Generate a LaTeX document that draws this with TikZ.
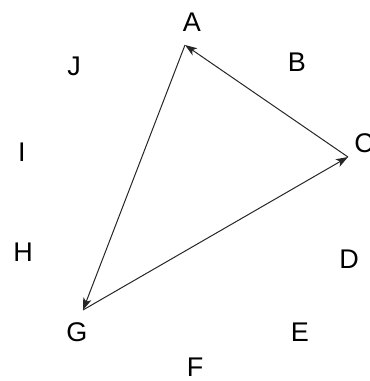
\documentclass[tikz,border=0pt]{standalone}
\usepackage{fontspec}
\setmainfont{Liberation Sans}
\usetikzlibrary{arrows.meta}
\begin{document}
\begin{tikzpicture}[x=1pt,y=-1pt,
  lbl/.style={font=\fontsize{27}{30}\selectfont,inner sep=0pt},
  edge/.style={line width=1pt,draw=black!85,-{Stealth[length=12pt,width=8.5pt,inset=3pt]}}]
\useasboundingbox (0,0) rectangle (370,381);
\node[lbl] (A) at (192,22) {A};
\node[lbl] (B) at (297,62) {B};
\node[lbl] (C) at (364,143) {C};
\node[lbl] (D) at (349,259) {D};
\node[lbl] (E) at (300,332) {E};
\node[lbl] (F) at (195,367) {F};
\node[lbl] (G) at (77,332) {G};
\node[lbl] (H) at (23,252) {H};
\node[lbl] (I) at (22,152) {I};
\node[lbl] (J) at (74,66) {J};

\coordinate (va) at (185,45);
\coordinate (vc) at (348,157);
\coordinate (vg) at (83,310);
\draw[edge] (vc) -- (va);
\draw[edge] (va) -- (vg);
\draw[edge] (vg) -- (vc);
\end{tikzpicture}
\end{document}
